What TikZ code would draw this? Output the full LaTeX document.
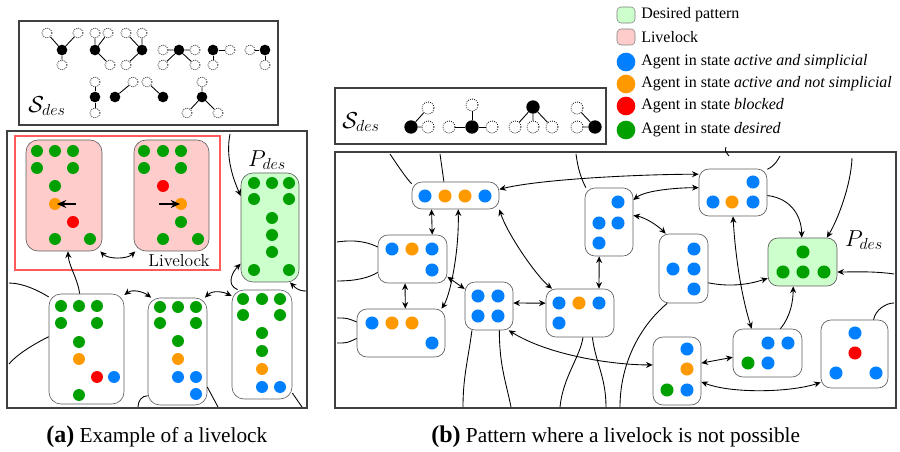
\documentclass[tikz,border=0pt]{standalone}
\usepackage{fontspec}
\newfontfamily\tnr{Liberation Serif}
\usetikzlibrary{arrows.meta,fit}
\definecolor{cb}{RGB}{0,128,255}
\definecolor{co}{RGB}{255,153,0}
\definecolor{cr}{RGB}{255,0,0}
\definecolor{cg}{RGB}{0,160,0}
\definecolor{pfill}{RGB}{255,204,204}
\definecolor{gfill}{RGB}{204,255,204}
\definecolor{redframe}{RGB}{255,90,90}
\definecolor{bord}{RGB}{95,95,95}
\newcommand{\agdot}[3]{\fill[#1] (#2,#3) circle[radius=4.5pt];}
\newcommand{\agdotb}[3]{\fill[#1] (#2,#3) circle[radius=4.9pt];}
\tikzset{
  conn/.style={line width=0.65pt},
  dbl/.style={conn,{Stealth[length=5pt,width=4.5pt]}-{Stealth[length=5pt,width=4.5pt]}},
  one/.style={conn,-{Stealth[length=5pt,width=4.5pt]}},
  stub/.style={conn},
  panel/.style={draw=black!75, line width=0.8pt, inner sep=0pt},
  stl/.style={draw=bord, line width=0.5pt, rounded corners=9pt, fill=white, inner sep=0pt},
  str/.style={draw=bord, line width=0.5pt, rounded corners=7.5pt, fill=white, inner sep=0pt},
  gf/.style={circle, fill=black, minimum size=8pt, inner sep=0pt},
  go/.style={circle, draw=black, densely dotted, line width=0.6pt, minimum size=7.5pt, inner sep=0pt},
  gfb/.style={circle, fill=black, minimum size=10pt, inner sep=0pt},
  gob/.style={circle, draw=black, densely dotted, line width=0.6pt, minimum size=9pt, inner sep=0pt},
  gl/.style={line width=0.65pt},
  lsq/.style={draw=gray, rounded corners=3pt, minimum width=13.5pt, minimum height=12pt, inner sep=0pt},
  ldot/.style={circle, minimum size=14pt, inner sep=0pt},
  legt/.style={anchor=west, font=\tnr\fontsize{12}{14}\selectfont, inner sep=0pt},
  capt/.style={anchor=west, inner sep=0pt, font=\tnr\fontsize{16}{18}\selectfont},
  inarr/.style={line width=1pt, -{Stealth[length=7pt,width=6pt]}},
  math/.style={font=\fontsize{17}{19}\selectfont, inner sep=0pt}
}
\begin{document}
\begin{tikzpicture}[x=0.75pt,y=-0.75pt]
\useasboundingbox (0,0) rectangle (900,452);

% ---------------- legend
\node[lsq, fill=gfill] (lg1) at (626,15) {};
\node[legt] (lt1) at (641,15) {Desired pattern};
\node[lsq, fill=pfill] (lg2) at (626,37) {};
\node[legt] (lt2) at (641,37) {Livelock};
\node[ldot, fill=cb] (lg3) at (626,62) {};
\node[legt] (lt3) at (641,62) {Agent in state \textit{active and simplicial}};
\node[ldot, fill=co] (lg4) at (626,84) {};
\node[legt] (lt4) at (641,84) {Agent in state \textit{active and not simplicial}};
\node[ldot, fill=cr] (lg5) at (626,106) {};
\node[legt] (lt5) at (641,106) {Agent in state \textit{blocked}};
\node[ldot, fill=cg] (lg6) at (626,130) {};
\node[legt] (lt6) at (641,130) {Agent in state \textit{desired}};

% ---------------- top-left S_des box
\node[panel, fit={(19,21) (278,125)}] (SA) {};
\node[math, anchor=west] (sda) at (28,106) {$\mathcal{S}_{des}$};
\node[gf] (a1) at (62,50) {}; \node[go] (a1a) at (47,33) {}; \node[go] (a1b) at (78,33) {}; \node[go] (a1c) at (62,65) {};
\draw[gl] (a1)--(a1a) (a1)--(a1b) (a1)--(a1c);
\node[gf] (a2) at (95,50) {}; \node[go] (a2a) at (95,33) {}; \node[go] (a2b) at (108,33) {}; \node[go] (a2c) at (110,65) {};
\draw[gl] (a2)--(a2a) (a2)--(a2b) (a2)--(a2c);
\node[gf] (a3) at (142,50) {}; \node[go] (a3a) at (126,33) {}; \node[go] (a3b) at (142,33) {}; \node[go] (a3c) at (126,65) {};
\draw[gl] (a3)--(a3a) (a3)--(a3b) (a3)--(a3c);
\node[gf] (a4) at (179,50) {}; \node[go] (a4a) at (163,50) {}; \node[go] (a4b) at (195,50) {}; \node[go] (a4c) at (163,65) {}; \node[go] (a4d) at (195,65) {};
\draw[gl] (a4)--(a4a) (a4)--(a4b) (a4)--(a4c) (a4)--(a4d);
\node[gf] (a5) at (213,50) {}; \node[go] (a5a) at (230,50) {}; \node[go] (a5b) at (213,65) {};
\draw[gl] (a5)--(a5a) (a5)--(a5b);
\node[gf] (a6) at (265,50) {}; \node[go] (a6a) at (250,50) {}; \node[go] (a6b) at (265,65) {};
\draw[gl] (a6)--(a6a) (a6)--(a6b);
\node[gf] (a7) at (95,97) {}; \node[go] (a7a) at (95,82) {}; \node[go] (a7b) at (95,113) {};
\draw[gl] (a7)--(a7a) (a7)--(a7b);
\node[gf] (a8) at (115,97) {}; \node[go] (a8a) at (133,82) {};
\draw[gl] (a8)--(a8a);
\node[gf] (a9) at (163,97) {}; \node[go] (a9a) at (147,82) {};
\draw[gl] (a9)--(a9a);
\node[gf] (a10) at (202,97) {}; \node[go] (a10a) at (202,82) {}; \node[go] (a10b) at (187,113) {}; \node[go] (a10c) at (218,113) {};
\draw[gl] (a10)--(a10a) (a10)--(a10b) (a10)--(a10c);

% ---------------- right S_des box
\node[panel, fit={(335,88) (606,144)}] (SB) {};
\node[math, anchor=west] (sdb) at (342,122) {$\mathcal{S}_{des}$};
\node[gfb] (h1) at (411,127) {}; \node[gob] (h1a) at (428,108) {}; \node[gob] (h1b) at (428,127) {};
\draw[gl] (h1)--(h1a) (h1)--(h1b);
\node[gfb] (h2) at (472,127) {}; \node[gob] (h2a) at (472,105) {}; \node[gob] (h2b) at (449,127) {}; \node[gob] (h2c) at (492,127) {};
\draw[gl] (h2)--(h2a) (h2)--(h2b) (h2)--(h2c);
\node[gfb] (h3) at (533,107) {}; \node[gob] (h3a) at (515,127) {}; \node[gob] (h3b) at (533,127) {}; \node[gob] (h3c) at (552,127) {};
\draw[gl] (h3)--(h3a) (h3)--(h3b) (h3)--(h3c);
\node[gfb] (h4) at (595,127) {}; \node[gob] (h4a) at (577,108) {}; \node[gob] (h4b) at (577,127) {};
\draw[gl] (h4)--(h4a) (h4)--(h4b);

% ================= LEFT PANEL
\node[panel, fit={(7,131) (307,408)}] (PA) {};
\node[draw=redframe, line width=0.9pt, inner sep=0pt, fit={(15,136) (220,270)}] (RF) {};
\node[stl, fill=pfill] (L1) [fit={(26,140) (102,251)}] {};
\node[stl, fill=pfill] (L2) [fit={(134,140) (209,251)}] {};
\node[stl, fill=gfill] (LP) [fit={(241,173) (299,282)}] {};
\node[stl] (A) [fit={(49,294) (124,404)}] {};
\node[stl] (B) [fit={(148,298) (207,405)}] {};
\node[stl] (C) [fit={(232,290) (292,399)}] {};
\node (ll) at (179,261) {\fontsize{13}{15}\selectfont Livelock};
\node[math] (pda) at (267,160) {$P_{des}$};

\agdot{cg}{37}{151}\agdot{cg}{55}{151}\agdot{cg}{73}{151}\agdot{cg}{37}{168}\agdot{cg}{73}{168}
\agdot{cg}{55}{186}\agdot{co}{55}{204}\agdot{cr}{73}{222}\agdot{cg}{55}{239}\agdot{cg}{90}{239}
\agdot{cg}{144}{151}\agdot{cg}{163}{151}\agdot{cg}{181}{151}\agdot{cg}{144}{168}\agdot{cg}{181}{168}
\agdot{cr}{163}{186}\agdot{co}{181}{204}\agdot{cg}{181}{222}\agdot{cg}{163}{239}\agdot{cg}{198}{239}
\agdot{cg}{254}{183}\agdot{cg}{272}{183}\agdot{cg}{289}{183}\agdot{cg}{254}{199}\agdot{cg}{289}{199}
\agdot{cg}{272}{218}\agdot{cg}{272}{235}\agdot{cg}{272}{252}\agdot{cg}{254}{270}\agdot{cg}{289}{270}
\agdot{cg}{61}{306}\agdot{cg}{79}{306}\agdot{cg}{97}{306}\agdot{cg}{61}{323}\agdot{cg}{97}{323}
\agdot{cg}{79}{342}\agdot{co}{79}{359}\agdot{cr}{97}{377}\agdot{cb}{114}{377}\agdot{cg}{79}{395}
\agdot{cg}{160}{307}\agdot{cg}{178}{307}\agdot{cg}{196}{307}\agdot{cg}{160}{323}\agdot{cg}{196}{323}
\agdot{cg}{178}{341}\agdot{co}{178}{359}\agdot{cb}{178}{377}\agdot{cb}{196}{377}\agdot{cb}{196}{394}
\agdot{cg}{243}{299}\agdot{cg}{262}{299}\agdot{cg}{280}{299}\agdot{cg}{243}{315}\agdot{cg}{280}{315}
\agdot{cg}{262}{333}\agdot{cg}{262}{351}\agdot{co}{262}{369}\agdot{cb}{262}{387}\agdot{cb}{280}{387}
\draw[inarr] (76,204) -- (57,204);
\draw[inarr] (159,204) -- (180,204);

\coordinate (la1) at (230,134);
\coordinate (la2) at (306,291);
\coordinate (la3) at (9,283);
\coordinate (la4) at (9,364);
\coordinate (la5) at (138,407);
\coordinate (la6) at (218,407);
\coordinate (la7) at (302,407);
\draw[dbl] (L1.-57) .. controls +(8,8) and +(-8,8) .. (L2.-123);
\draw[one] (A.97) .. controls +(-2,-15) and +(1,15) .. (L1.-86);
\draw[one] (la1) .. controls +(-5,25) and +(-6,-14) .. (LP.133);
\draw[one] (C.114) .. controls +(-12,-5) and +(-8,8) .. (LP.-129);
\draw[one] (la2) .. controls +(-8,0) and +(5,5) .. (LP.-70);
\draw[dbl] (A.55) .. controls +(8,-6) and +(-8,-6) .. (B.116);
\draw[dbl] (B.63) .. controls +(8,-8) and +(-8,-4) .. (C.122);
\draw[stub] (la3) .. controls +(15,0) and +(-8,-5) .. (A.126);
\draw[stub] (la4) .. controls +(10,-12) and +(-8,4) .. (A.162);
\draw[stub] (B.-124) .. controls +(-6,0) and +(0,-6) .. (la5);
\draw[stub] (B.-50) -- (la6);
\draw[stub] (C.-58) -- (la7);

% ================= RIGHT PANEL
\node[panel, fit={(335,152) (896,408)}] (PB) {};
\node[str] (N1) [fit={(412,182) (499,209)}] {};
\node[str] (N2) [fit={(378,235) (447,283)}] {};
\node[str] (N3) [fit={(357,309) (445,357)}] {};
\node[str] (N4) [fit={(465,282) (513,330)}] {};
\node[str] (N5) [fit={(546,289) (614,337)}] {};
\node[str] (N6) [fit={(585,188) (633,256)}] {};
\node[str] (N7) [fit={(699,169) (767,216)}] {};
\node[str] (N8) [fit={(659,234) (708,303)}] {};
\node[str, fill=gfill] (RP) [fit={(768,238) (837,286)}] {};
\node[str] (N9) [fit={(733,329) (802,377)}] {};
\node[str] (N10) [fit={(653,337) (701,405)}] {};
\node[str] (N11) [fit={(821,320) (888,388)}] {};
\node[math] (pdb) at (864,240) {$P_{des}$};

\agdotb{cb}{425}{196}\agdotb{co}{445}{196}\agdotb{co}{465}{196}\agdotb{cb}{485}{196}
\agdotb{cb}{392}{249}\agdotb{co}{412}{249}\agdotb{cb}{432}{249}\agdotb{cb}{432}{270}
\agdotb{cb}{372}{323}\agdotb{co}{392}{323}\agdotb{co}{412}{323}\agdotb{cb}{432}{343}
\agdotb{cb}{478}{296}\agdotb{cb}{498}{296}\agdotb{cb}{478}{316}\agdotb{cb}{498}{316}
\agdotb{cb}{559}{303}\agdotb{co}{579}{303}\agdotb{cb}{599}{303}\agdotb{cb}{559}{323}
\agdotb{cb}{618}{202}\agdotb{cb}{599}{223}\agdotb{cb}{618}{223}\agdotb{cb}{599}{243}
\agdotb{cb}{753}{182}\agdotb{cb}{713}{202}\agdotb{co}{732}{202}\agdotb{cb}{753}{202}
\agdotb{cb}{694}{249}\agdotb{cb}{673}{269}\agdotb{cb}{694}{269}\agdotb{cb}{694}{289}
\agdotb{cg}{803}{252}\agdotb{cg}{783}{272}\agdotb{cg}{803}{272}\agdotb{cg}{824}{272}
\agdotb{cb}{768}{343}\agdotb{cb}{788}{343}\agdotb{cg}{748}{363}\agdotb{cb}{768}{363}
\agdotb{cb}{687}{349}\agdotb{co}{687}{369}\agdotb{cg}{667}{390}\agdotb{cb}{687}{390}
\agdotb{cb}{855}{333}\agdotb{cr}{855}{353}\agdotb{cb}{836}{373}\agdotb{cb}{876}{373}

\coordinate (r1) at (390,154);
\coordinate (r2) at (440,154);
\coordinate (r3) at (337,242);
\coordinate (r4) at (337,281);
\coordinate (r5) at (337,318);
\coordinate (r6) at (337,343);
\coordinate (r7) at (576,154);
\coordinate (r8) at (852,158);
\coordinate (r9) at (894,274);
\coordinate (r10) at (894,303);
\coordinate (r11) at (780,156);
\coordinate (r12) at (620,407);
\coordinate (r13) at (463,407);
\coordinate (r14) at (511,407);
\coordinate (r15) at (560,407);
\coordinate (r16) at (606,407);
\coordinate (r17) at (726,147);
\coordinate (r18) at (729,156);

\draw[dbl] (N1.-150) -- (N2.51);
\draw[dbl] (N2.-107) -- (N3.80.5);
\draw[dbl] (N1.-79.5) .. controls +(1,45) and +(8,-12) .. (N3.31);
\draw[dbl] (N2.-27.5) -- (N4.145);
\draw[dbl] (N4.7) -- (N5.164);
\draw[dbl] (N1.south east) .. controls +(8,25) and +(-15,-12) .. (N5.139);
\draw[dbl] (N1.8.5) .. controls +(40,-10) and +(-60,0) .. (N7.152);
\draw[dbl] (N6.42.5) .. controls +(12,-10) and +(-20,0) .. (N7.172.5);
\draw[dbl] (N6.15) .. controls +(12,2) and +(-8,-8) .. (N8.117);
\draw[dbl] (N6.-106) -- (N5.52);
\draw[one] (N7.-5) .. controls +(25,3) and +(0,-20) .. (RP.92);
\draw[one] (r8) .. controls +(-1,27) and +(11,-18) .. (RP.45);
\draw[one] (r9) .. controls +(-20,-3) and +(15,0) .. (RP.-16);
\draw[one] (N8.-30.6) .. controls +(25,5) and +(-15,5) .. (RP.-155);
\draw[dbl] (N7.south) .. controls +(3,50) and +(-8,-25) .. (N9.123);
\draw[one] (N9.62.5) .. controls +(10,-12) and +(0,15) .. (RP.-111.6);
\draw[dbl] (N10.18) -- (N9.-173);
\draw[dbl] (N10.-24.6) .. controls +(30,12) and +(-30,10) .. (N11.-140);
\draw[dbl] (N4.-51.6) .. controls +(40,25) and +(-40,0) .. (N10.166);
\draw[stub] (N11.61.5) .. controls +(2,-10) and +(-8,0) .. (r10);
\draw[stub] (N7.34) .. controls +(8,-4) and +(-3,5) .. (r11);
\draw[stub] (N8.-115.6) .. controls +(-30,25) and +(0,-40) .. (r12);
\draw[stub] (N4.-125) .. controls +(-4,30) and +(0,-30) .. (r13);
\draw[stub] (N4.-67.4) .. controls +(0,35) and +(-5,-25) .. (r14);
\draw[stub] (N5.-83) .. controls +(-3,20) and +(3,-30) .. (r15);
\draw[stub] (N5.-63.4) .. controls +(3,25) and +(0,-30) .. (r16);
\draw[stub] (r1) .. controls +(8,12) and +(-5,-5) .. (N1.165);
\draw[stub] (r2) -- (N1.130);
\draw[stub] (r3) .. controls +(20,-3) and +(-8,-4) .. (N2.161);
\draw[stub] (r4) .. controls +(20,0) and +(-8,5) .. (N2.-159.4);
\draw[stub] (r5) .. controls +(10,0) .. (N3.166);
\draw[stub] (r6) .. controls +(10,0) .. (N3.-173.5);
\draw[stub] (r7) .. controls +(2,15) and +(-5,-10) .. (N6.124.5);
\draw[stub] (r17) .. controls +(-1,4) .. (r18);

% ---------------- captions
\node[capt] (capa) at (46,437) {{\fontsize{18}{20}\selectfont\bfseries (a)} Example of a livelock};
\node[capt] (capb) at (431,437) {{\fontsize{18}{20}\selectfont\bfseries (b)} Pattern where a livelock is not possible};
\end{tikzpicture}
\end{document}
